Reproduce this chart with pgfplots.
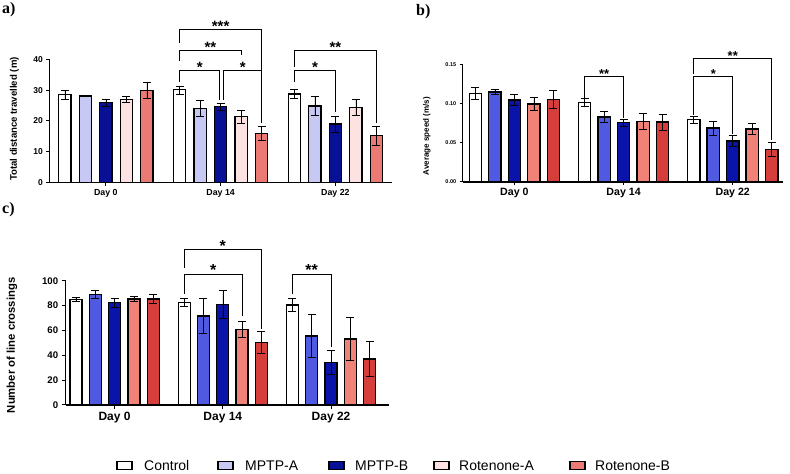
\documentclass[border=0pt]{standalone}
\usepackage{pgfplots}
\pgfplotsset{compat=1.18}
\usepackage{pgfplotstable}
\usepackage{fontspec}
\setmainfont{Liberation Sans}
\newfontfamily\panelfont{Liberation Serif}
\usetikzlibrary{calc}

% group colours (light/dark palette for panel a and legend, vivid for b and c)
\definecolor{ctl}{RGB}{255,255,255}
\definecolor{mpaL}{RGB}{200,200,244}
\definecolor{mpbL}{RGB}{8,16,150}
\definecolor{roaL}{RGB}{252,226,226}
\definecolor{robL}{RGB}{236,122,116}
\definecolor{mpaV}{RGB}{80,90,224}
\definecolor{mpbV}{RGB}{10,20,168}
\definecolor{roaV}{RGB}{240,130,120}
\definecolor{robV}{RGB}{214,62,60}

\newcommand{\fs}[1]{\fontsize{#1}{#1}\selectfont}

% mean and SEM per day
\pgfplotstableread{
day ctl ctle ma mae mb mbe ra rae rb rbe
0  28.6 1.5 28.1 0.2 25.9 1.0 27.0 1.0 30.0 2.5
14 30.1 1.3 24.1 2.7 24.6 1.2 21.4 2.0 16.0 2.4
22 28.8 1.5 24.9 3.0 19.0 2.6 24.4 2.6 15.2 3.0
}\distance

\pgfplotstableread{
day ctl ctle ma mae mb mbe ra rae rb rbe
0  0.1130 0.0075 0.1147 0.0035 0.1045 0.0070 0.0994 0.0080 0.1054 0.0115
14 0.1015 0.0050 0.0828 0.0070 0.0756 0.0047 0.0773 0.0098 0.0765 0.0102
22 0.0794 0.0043 0.0688 0.0089 0.0523 0.0068 0.0675 0.0073 0.0416 0.0090
}\speed

\pgfplotstableread{
day ctl ctle ma mae mb mbe ra rae rb rbe
0  85.0 1.3 89.0 3.5  82.3 3.5  85.3 1.8  85.3 3.7
14 82.3 3.2 71.6 13.9 81.0 11.2 60.6 6.4  50.4 8.6
22 80.4 5.1 55.5 17.4 34.3 9.9  53.1 17.4 37.0 14.0
}\crossings

\pgfplotsset{
  panel/.style={
    scale only axis,
    axis x line*=bottom, axis y line*=left,
    axis line style={line width=1.1pt,-},
    clip=false, enlargelimits=false, ymin=0,
    xtick={2,7.6,13.2}, xticklabels={Day 0,Day 14,Day 22},
    tick align=outside, major tick length=3pt,
    tick style={black,line width=1pt},
    /pgf/number format/assume math mode=true,
    every axis plot/.append style={
      ybar, bar shift=0pt, draw=black, line width=1.3pt,
      error bars/y dir=both, error bars/y explicit,
      error bars/error bar style={black,line width=0.6pt},
      error bars/error mark options={rotate=90,black,mark size=4pt,line width=0.6pt}},
  },
}

% significance bracket: x1 y1 x2 y2 ytop xmid label
\newcommand{\sig}[7]{%
  \draw[line width=0.9pt,line join=miter] (axis cs:#1,#2) -- (axis cs:#1,#5) -- (axis cs:#3,#5) -- (axis cs:#3,#4);
  \node[anchor=base,inner sep=0pt,yshift=-2pt] at (axis cs:#6,#5) {#7};
}

\begin{document}
\begin{tikzpicture}
\useasboundingbox (0,0) rectangle (790pt,474pt);

% ---------------- a) distance ----------------
\begin{axis}[panel,
  at={(49.3pt,291.3pt)}, anchor=south west,
  width=342.7pt, height=123.4pt,
  xmin=-0.76, xmax=15.96, ymax=40, ytick={0,10,...,40},
  bar width=0.6,
  yticklabel style={font=\bfseries\fs{8.5}},
  xticklabel style={font=\bfseries\fs{8.8}},
  ylabel={Total distance travelled (m)},
  ylabel style={at={(axis description cs:-0.102,0.516)},anchor=center,font=\bfseries\fs{9.6}},
]
\addplot[fill=ctl]  table[x expr=\coordindex*5.6+0,y=ctl,y error=ctle]{\distance};
\addplot[fill=mpaL] table[x expr=\coordindex*5.6+1,y=ma,y error=mae]{\distance};
\addplot[fill=mpbL] table[x expr=\coordindex*5.6+2,y=mb,y error=mbe]{\distance};
\addplot[fill=roaL] table[x expr=\coordindex*5.6+3,y=ra,y error=rae]{\distance};
\addplot[fill=robL] table[x expr=\coordindex*5.6+4,y=rb,y error=rbe]{\distance};
\sig{5.6}{45.3}{9.6}{19.5}{49.8}{7.6}{\bfseries\fs{15}***}
\sig{5.6}{39.5}{8.6}{41.4}{42.8}{7.1}{\bfseries\fs{15}**}
\sig{5.6}{32.7}{7.55}{26.8}{36.3}{6.58}{\bfseries\fs{15}*}
\sig{7.75}{26.8}{9.6}{19.5}{36.3}{8.68}{\bfseries\fs{15}*}
\sig{11.2}{37.5}{15.2}{19.5}{43.0}{13.2}{\bfseries\fs{15}**}
\sig{11.2}{32.7}{13.2}{22.8}{36.3}{12.2}{\bfseries\fs{15}*}
\end{axis}

% ---------------- b) speed ----------------
\begin{axis}[panel,
  at={(462.7pt,292pt)}, anchor=south west,
  width=320pt, height=117.7pt,
  xmin=-0.65, xmax=15.76, ymax=0.15, ytick={0,0.05,0.10,0.15},
  bar width=0.63,
  yticklabel style={font=\bfseries\fs{5.5},/pgf/number format/.cd,fixed,fixed zerofill,precision=2},
  xticklabel style={font=\bfseries\fs{10.6}},
  ylabel={Average speed (m/s)},
  ylabel style={at={(axis description cs:-0.112,0.39)},anchor=center,font=\bfseries\fs{8}},
]
\addplot[fill=ctl]  table[x expr=\coordindex*5.6+0,y=ctl,y error=ctle]{\speed};
\addplot[fill=mpaV] table[x expr=\coordindex*5.6+1,y=ma,y error=mae]{\speed};
\addplot[fill=mpbV] table[x expr=\coordindex*5.6+2,y=mb,y error=mbe]{\speed};
\addplot[fill=roaV] table[x expr=\coordindex*5.6+3,y=ra,y error=rae]{\speed};
\addplot[fill=robV] table[x expr=\coordindex*5.6+4,y=rb,y error=rbe]{\speed};
\sig{5.6}{0.107}{7.6}{0.0815}{0.135}{6.6}{\bfseries\fs{13}**}
\sig{11.2}{0.138}{15.2}{0.053}{0.158}{13.2}{\bfseries\fs{13}**}
\sig{11.2}{0.086}{13.2}{0.061}{0.134}{12.2}{\bfseries\fs{13}*}
\end{axis}

% ---------------- c) line crossings ----------------
\begin{axis}[panel,
  at={(65.7pt,69pt)}, anchor=south west,
  width=323.3pt, height=124.3pt,
  xmin=-0.53, xmax=16.2, ymax=100, ytick={0,20,...,100},
  bar width=0.62, major tick length=4pt,
  yticklabel style={font=\bfseries\fs{9.6}},
  xticklabel style={font=\bfseries\fs{12}},
  ylabel={Number of line crossings},
  ylabel style={at={(axis description cs:-0.166,0.48)},anchor=center,font=\bfseries\fs{11.3}},
]
\addplot[fill=ctl]  table[x expr=\coordindex*5.6+0,y=ctl,y error=ctle]{\crossings};
\addplot[fill=mpaV] table[x expr=\coordindex*5.6+1,y=ma,y error=mae]{\crossings};
\addplot[fill=mpbV] table[x expr=\coordindex*5.6+2,y=mb,y error=mbe]{\crossings};
\addplot[fill=roaV] table[x expr=\coordindex*5.6+3,y=ra,y error=rae]{\crossings};
\addplot[fill=robV] table[x expr=\coordindex*5.6+4,y=rb,y error=rbe]{\crossings};
\sig{5.6}{110}{9.6}{61}{125.5}{7.6}{\bfseries\fs{16}*}
\sig{5.6}{89.5}{8.6}{72}{105.4}{7.1}{\bfseries\fs{16}*}
\sig{11.2}{89.5}{13.2}{47}{105.4}{12.2}{\bfseries\fs{16}**}
\end{axis}

% panel letters
\node[anchor=west,inner sep=0pt,font=\panelfont\bfseries\fs{16}] at (2pt,464pt) {a)};
\node[anchor=west,inner sep=0pt,font=\panelfont\bfseries\fs{16}] at (416pt,462pt) {b)};
\node[anchor=west,inner sep=0pt,font=\panelfont\bfseries\fs{16}] at (2pt,264pt) {c)};

% legend
\begin{scope}[every node/.style={anchor=west,inner sep=0pt,font=\fs{14}}]
\foreach \bx/\tx/\col/\lab in {117/144/ctl/Control, 218/245/mpaL/MPTP-A, 329/355/mpbL/MPTP-B, 434/459/roaL/Rotenone-A, 570/595/robL/Rotenone-B}{
  \draw[fill=\col,line width=1.2pt] (\bx pt,4.3pt) rectangle ({\bx pt+15pt},12.3pt);
  \node at (\tx pt,8.3pt) {\lab};
}
\end{scope}
\end{tikzpicture}
\end{document}
